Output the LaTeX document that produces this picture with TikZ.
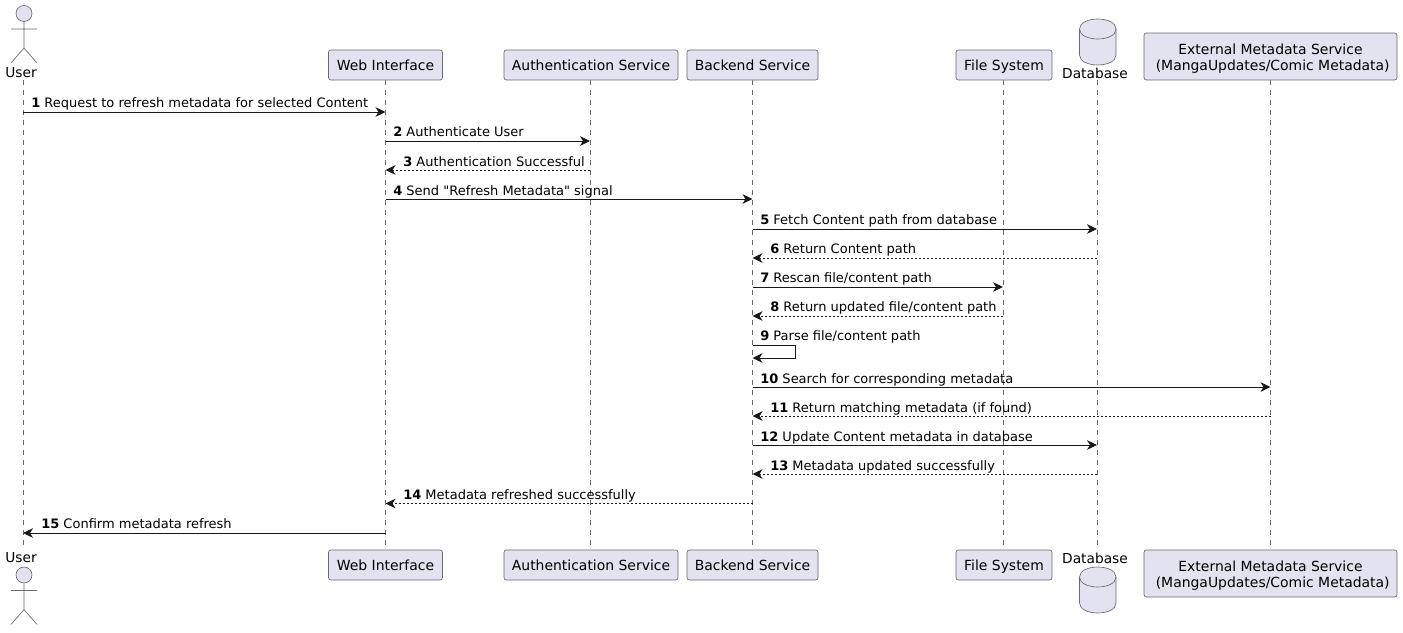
\documentclass[tikz,border=0pt]{standalone}
\usepackage{fontspec}
\setmainfont[Ligatures=TeXOff]{DejaVu Sans}
\definecolor{partfill}{HTML}{E2E2F0}
\definecolor{partline}{HTML}{181818}
\definecolor{thinline}{HTML}{6A6A6A}
\usetikzlibrary{arrows.meta}
\begin{document}
\begin{tikzpicture}[x=0.75pt,y=-0.75pt]

    \tikzset{
      part/.style={
        draw=thinline,
        fill=partfill,
        line width=0.5pt,
        rounded corners=1.8pt,
        align=center,
        inner sep=0pt,
        font=\fontsize{10.45pt}{12.2pt}\selectfont,
      },
      oneline/.style={
        part,
        text height=9.2pt,
        text depth=1pt,
        minimum height=22.5pt,
      },
      twoline/.style={
        part,
        text height=21pt,
        text depth=0pt,
        minimum height=35.25pt,
      },
      partlabel/.style={
        inner sep=0pt,
        font=\fontsize{10.3pt}{12.2pt}\selectfont,
      },
      lifeline/.style={
        color=thinline,
        line width=0.5pt,
        dash pattern=on 3.75pt off 3.75pt,
      },
      shape line/.style={
        draw=thinline,
        line width=0.5pt,
      },
      msg/.style={
        color=partline,
        line width=0.75pt,
        -{Stealth[inset=2.25pt,length=7.5pt,width=7.2pt]},
      },
      reply/.style={
        msg,
        dash pattern=on 1.5pt off 1.5pt,
      },
      msgtext/.style={
        anchor=base west,
        inner sep=0pt,
        font=\fontsize{9.75pt}{11.7pt}\selectfont,
      },
    }

    \useasboundingbox (0,0) rectangle (1403,632);

	% lifelines first, the boxes sit on top of them
	\coordinate (userTop) at (23,80);
	\coordinate (userBot) at (23,550);
	\coordinate (dbTop) at (1097,80);
	\coordinate (dbBot) at (1097,550);
	\coordinate (webTop) at (385.5,80);
	\coordinate (webBot) at (385.5,550);
	\coordinate (authTop) at (590,80);
	\coordinate (authBot) at (590,550);
	\coordinate (backTop) at (752.5,80);
	\coordinate (backBot) at (752.5,550);
	\coordinate (fsTop) at (1003,80);
	\coordinate (fsBot) at (1003,550);
	\coordinate (extTop) at (1270.5,80);
	\coordinate (extBot) at (1270.5,550);
	\draw[lifeline] (userTop)--(userBot);
	\draw[lifeline] (webTop)--(webBot);
	\draw[lifeline] (authTop)--(authBot);
	\draw[lifeline] (backTop)--(backBot);
	\draw[lifeline] (fsTop)--(fsBot);
	\draw[lifeline] (dbTop)--(dbBot);
	\draw[lifeline] (extTop)--(extBot);

	% top row
	\node[oneline,minimum width=85.5pt] (webA) at (385.5,65) {Web Interface};
	\node[oneline,minimum width=130.5pt] (authA) at (591,65) {Authentication Service};
	\node[oneline,minimum width=98.25pt] (backA) at (752.5,65) {Backend Service};
	\node[oneline,minimum width=72pt] (fsA) at (1004,65) {File System};
	\node[twoline,minimum width=189.75pt] (extA) at (1270.5,56.5) {External Metadata Service\\ ~(MangaUpdates/Comic Metadata)};
	\node[partlabel] (userA) at (21,73) {User};
	\node[partlabel] (dbA) at (1095,73) {Database};

	% bottom row
	\node[oneline,minimum width=85.5pt] (webB) at (385.5,565) {Web Interface};
	\node[oneline,minimum width=130.5pt] (authB) at (591,565) {Authentication Service};
	\node[oneline,minimum width=98.25pt] (backB) at (752.5,565) {Backend Service};
	\node[oneline,minimum width=72pt] (fsB) at (1004,565) {File System};
	\node[twoline,minimum width=189.75pt] (extB) at (1270.5,573.5) {External Metadata Service\\ ~(MangaUpdates/Comic Metadata)};
	\node[partlabel] (userB) at (21,558) {User};
	\node[partlabel] (dbB) at (1095,558) {Database};

	% actors
	\filldraw[shape line,fill=partfill] (24,13.5) circle (6pt);
	\draw[shape line] (24,21.5)--(24,48) (11,29)--(37,29) (11,63)--(24,48)--(37,63);
	\filldraw[shape line,fill=partfill] (24,575) circle (6pt);
	\draw[shape line] (24,583)--(24,609.5) (11,590.5)--(37,590.5) (11,624.5)--(24,609.5)--(37,624.5);

	% cylinders
	\filldraw[shape line,fill=partfill] (1079.5,29) .. controls (1079.5,15.7) and (1116,15.7) .. (1116,29)--(1116,55) .. controls (1116,68.3) and (1079.5,68.3) .. (1079.5,55)--cycle;
	\draw[shape line] (1079.5,29) .. controls (1079.5,42.3) and (1116,42.3) .. (1116,29);
	\filldraw[shape line,fill=partfill] (1079.5,577) .. controls (1079.5,563.7) and (1116,563.7) .. (1116,577)--(1116,603) .. controls (1116,616.3) and (1079.5,616.3) .. (1079.5,603)--cycle;
	\draw[shape line] (1079.5,577) .. controls (1079.5,590.3) and (1116,590.3) .. (1116,577);

	% message ends
	\coordinate (a1) at (23,112);
	\coordinate (b1) at (385.5,112);
	\coordinate (a2) at (385.5,141);
	\coordinate (b2) at (590,141);
	\coordinate (a3) at (590,170);
	\coordinate (b3) at (385.5,170);
	\coordinate (a4) at (385.5,199);
	\coordinate (b4) at (752.5,199);
	\coordinate (a5) at (752.5,229);
	\coordinate (b5) at (1097,229);
	\coordinate (a6) at (1097,258);
	\coordinate (b6) at (752.5,258);
	\coordinate (a7) at (752.5,287);
	\coordinate (b7) at (1003,287);
	\coordinate (a8) at (1003,316);
	\coordinate (b8) at (752.5,316);
	\coordinate (a9) at (752.5,345.5);
	\coordinate (b9) at (752.5,358);
	\coordinate (c9) at (795,345.5);
	\coordinate (d9) at (795,358);
	\coordinate (a10) at (752.5,387);
	\coordinate (b10) at (1270.5,387);
	\coordinate (a11) at (1270.5,416);
	\coordinate (b11) at (752.5,416);
	\coordinate (a12) at (752.5,445);
	\coordinate (b12) at (1097,445);
	\coordinate (a13) at (1097,474);
	\coordinate (b13) at (752.5,474);
	\coordinate (a14) at (752.5,503.5);
	\coordinate (b14) at (385.5,503.5);
	\coordinate (a15) at (385.5,533);
	\coordinate (b15) at (23,533);

	% messages
	\draw[msg] (a1)--(b1);
	\draw[msg] (a2)--(b2);
	\draw[reply] (a3)--(b3);
	\draw[msg] (a4)--(b4);
	\draw[msg] (a5)--(b5);
	\draw[reply] (a6)--(b6);
	\draw[msg] (a7)--(b7);
	\draw[reply] (a8)--(b8);
	\draw[msg] (a9)--(c9)--(d9)--(b9);
	\draw[msg] (a10)--(b10);
	\draw[reply] (a11)--(b11);
	\draw[msg] (a12)--(b12);
	\draw[reply] (a13)--(b13);
	\draw[reply] (a14)--(b14);
	\draw[msg] (a15)--(b15);

	% message texts
	\node[msgtext] (t1) at (31,107.5) {\textbf{1} Request to refresh metadata for selected Content};
	\node[msgtext] (t2) at (393,136.5) {\textbf{2} Authenticate User};
	\node[msgtext] (t3) at (403,166) {\textbf{3} Authentication Successful};
	\node[msgtext] (t4) at (393,195) {\textbf{4} Send "Refresh Metadata" signal};
	\node[msgtext] (t5) at (760,224.5) {\textbf{5} Fetch Content path from database};
	\node[msgtext] (t6) at (770,253.5) {\textbf{6} Return Content path};
	\node[msgtext] (t7) at (760,282.5) {\textbf{7} Rescan file/content path};
	\node[msgtext] (t8) at (770,311.5) {\textbf{8} Return updated file/content path};
	\node[msgtext] (t9) at (760,340.5) {\textbf{9} Parse file/content path};
	\node[msgtext] (t10) at (760,383.5) {\textbf{10} Search for corresponding metadata};
	\node[msgtext] (t11) at (770,412.5) {\textbf{11} Return matching metadata (if found)};
	\node[msgtext] (t12) at (760,441.5) {\textbf{12} Update Content metadata in database};
	\node[msgtext] (t13) at (770,470.5) {\textbf{13} Metadata updated successfully};
	\node[msgtext] (t14) at (403,499) {\textbf{14} Metadata refreshed successfully};
	\node[msgtext] (t15) at (41,528.5) {\textbf{15} Confirm metadata refresh};

\end{tikzpicture}
\end{document}
